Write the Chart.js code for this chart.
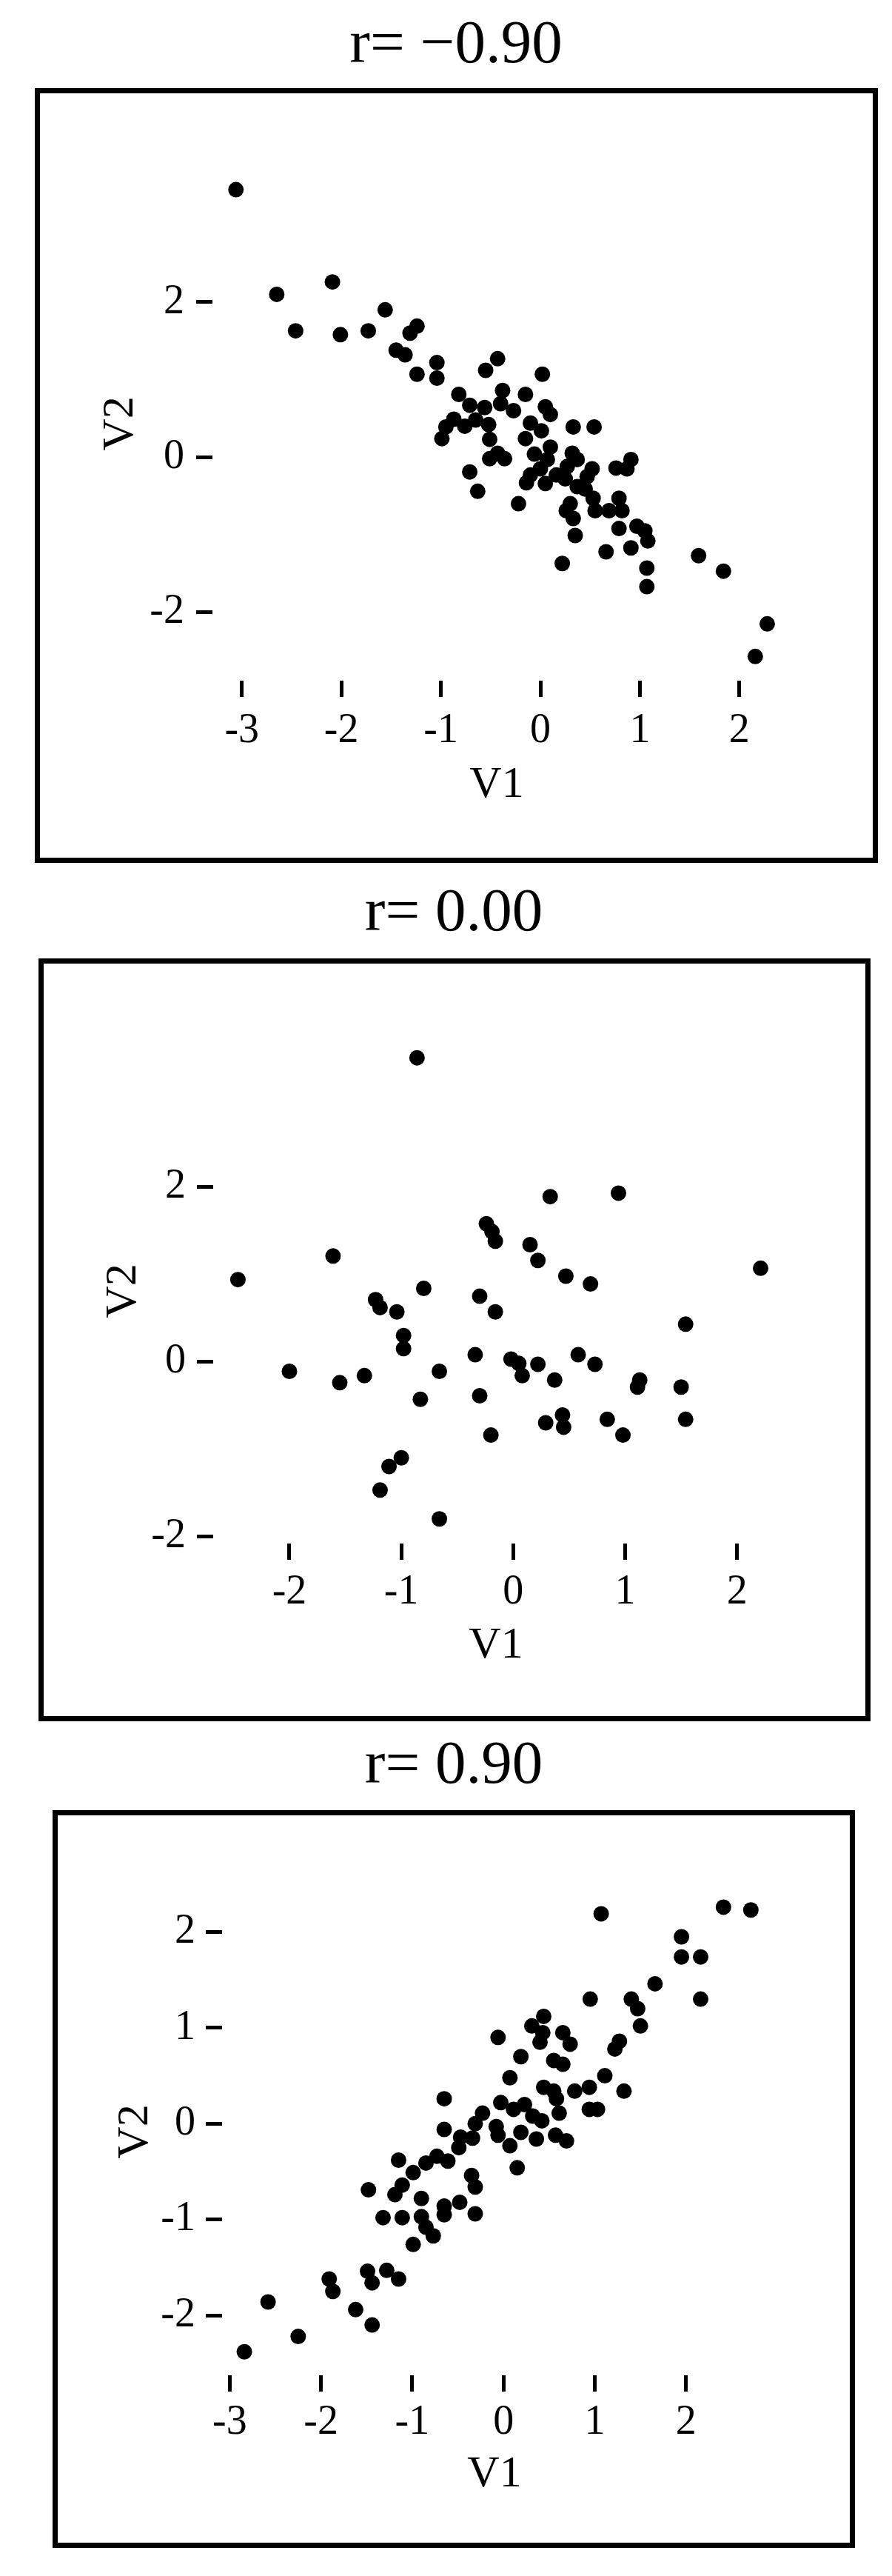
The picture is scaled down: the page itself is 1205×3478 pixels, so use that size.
<!DOCTYPE html>
<html>
<head>
<meta charset="utf-8">
<title>Scatter plots r = -0.90, 0.00, 0.90</title>
<script src="https://cdn.jsdelivr.net/npm/chart.js@4.4.1/dist/chart.umd.min.js"></script>
<style>
  html, body { margin: 0; padding: 0; background: #fff; }
  body { position: relative; width: 1205px; height: 3478px; overflow: hidden; }
  canvas { position: absolute; left: 0; }
  .box { position: absolute; border: 7px solid #000; box-sizing: border-box; }
</style>
</head>
<body>
<div class="box" style="left:47px; top:119px; width:1139px; height:1046px"></div>
<div class="box" style="left:52px; top:1294px; width:1124px; height:1030px"></div>
<div class="box" style="left:71px; top:2444px; width:1084px; height:996px"></div>

<canvas id="chartNeg" width="1205" height="1170" style="top:0px"></canvas>
<canvas id="chartZero" width="1205" height="1160" style="top:1170px"></canvas>
<canvas id="chartPos" width="1205" height="1148" style="top:2330px"></canvas>

<script>
// panel titles
var titles = ['r= \u22120.90', 'r= 0.00', 'r= 0.90']

// tick labels
var xTicksNeg = [-3, -2, -1, 0, 1, 2]
var yTicksNeg = [-2, 0, 2]
var xTicksZero = [-2, -1, 0, 1, 2]
var yTicksZero = [-2, 0, 2]
var xTicksPos = [-3, -2, -1, 0, 1, 2]
var yTicksPos = [-2, -1, 0, 1, 2]

// r = -0.90
var v1Neg = [-3.06, -2.65, -2.09, -2.46, -2.01, -1.73, -1.56, -1.31, -1.24, -1.45, -1.36,
    -1.04, -1.04, -1.24, -0.43, -0.55, 0.02,
    -0.82, -0.71, -0.56, -0.38, -0.40, -0.27, -0.15, 0.05, 0.10,
    -0.87, -0.95, -0.99, -0.76, -0.65, -0.52, -0.51,
    -0.10, 0.01, -0.15, 0.33, 0.54, 0.10, -0.06,
    -0.51, -0.36, -0.43, -0.71, -0.63, -0.22,
    -0.10, 0.00, 0.07, 0.16, 0.05, 0.27, 0.37, 0.25, 0.37, 0.52, 0.47,
    0.76, 0.91, 0.87,
    0.30, 0.26, 0.33, 0.35, 0.53, 0.55, 0.69, 0.79, 0.82, 0.79, 0.97, 1.05, 1.08,
    0.66, 0.91, 0.22, 1.07,
    -0.14, 0.32, 0.45,
    1.07, 1.59, 1.84, 2.28, 2.16]
var v2Neg = [3.45, 2.10, 2.26, 1.63, 1.58, 1.63, 1.90, 1.60, 1.69, 1.38, 1.32,
    1.22, 1.02, 1.07, 1.27, 1.12, 1.07,
    0.81, 0.67, 0.64, 0.86, 0.69, 0.60, 0.81, 0.65, 0.55,
    0.49, 0.39, 0.24, 0.40, 0.48, 0.42, 0.23,
    0.44, 0.34, 0.24, 0.39, 0.39, 0.13, 0.04,
    -0.02, -0.02, 0.05, -0.19, -0.44, -0.60,
    -0.23, -0.15, -0.03, -0.23, -0.34, -0.12, -0.03, -0.28, -0.38, -0.15, -0.25,
    -0.14, -0.03, -0.15,
    -0.60, -0.69, -0.79, -1.01, -0.53, -0.69, -0.69, -0.53, -0.69, -0.92, -0.89, -0.95, -1.08,
    -1.22, -1.17, -1.37, -1.43,
    -0.33, 0.05, -0.41,
    -1.67, -1.27, -1.47, -2.15, -2.57]

// r = 0.00
var v1Zero = [-0.86, 0.33, 0.94, -0.24, -0.19, -0.16, 0.15, 0.22, 0.47, 0.69,
    -1.61, -2.46, 2.21, -0.80, -1.23, -1.19, -1.04, -0.30, -0.16, 1.54,
    -0.98, -0.98, -0.34, -0.02, 0.05, 0.08, 0.22, 0.58, 0.73, 0.37,
    1.13, 1.11, 1.50, -2.00, -1.55, -1.33, -0.66, -0.83, -0.30, 0.29,
    0.44, 0.45, 0.84, 0.98, 1.54, -0.20, -1.00, -1.11, -1.19, -0.66]
var v2Zero = [3.48, 1.89, 1.93, 1.58, 1.49, 1.38, 1.34, 1.16, 0.98, 0.89,
    1.21, 0.94, 1.07, 0.84, 0.71, 0.62, 0.57, 0.75, 0.57, 0.43,
    0.30, 0.15, 0.08, 0.03, -0.02, -0.16, -0.03, 0.08, -0.03, -0.21,
    -0.21, -0.29, -0.29, -0.11, -0.24, -0.16, -0.11, -0.43, -0.39, -0.70,
    -0.61, -0.75, -0.66, -0.84, -0.66, -0.84, -1.10, -1.20, -1.47, -1.80]

// r = 0.90
var v1Pos = [1.07, 2.41, 2.71, 1.95, 1.95, 2.16, 2.16, 1.66, 0.95, 1.40, 1.47, 1.50, 1.27, 1.22, 1.32,
    0.44, 0.31, 0.43, 0.40, 0.65, 0.73, -0.06, 0.19, 0.55, 0.65, 0.07, 1.11, 0.44, 0.55, 0.58,
    0.78, 0.94, 0.94, 1.03, -0.65, 0.61,
    -0.03, 0.11, 0.23, 0.32, 0.42, 0.19, 0.07, -0.06, -0.08, -0.23, -0.31, -0.47, -0.49, -0.34,
    0.36, 0.57, 0.69, -0.65,
    -0.73, -0.61, -0.85, -0.99, -1.15, 0.15, -0.35, -0.31, -1.11, -1.19, -0.90, -0.65, -0.65,
    -0.48, -0.31, -1.11, -0.90, -0.85, -0.77, -0.99,
    -1.48, -1.32, -1.49, -1.44, -1.28, -1.15, -1.91, -1.87, -2.58, -1.62, -1.44, -2.25, -2.84]
var v2Pos = [2.19, 2.26, 2.23, 1.95, 1.74, 1.74, 1.30, 1.46, 1.30, 1.30, 1.20, 1.02, 0.86, 0.78, 0.34,
    1.12, 1.02, 0.95, 0.85, 0.95, 0.83, 0.90, 0.70, 0.66, 0.62, 0.48, 0.50, 0.38, 0.34, 0.26,
    0.34, 0.38, 0.15, 0.15, 0.26, 0.11,
    0.22, 0.15, 0.20, 0.08, 0.03, -0.09, -0.23, -0.12, -0.03, 0.11, 0.00, -0.14, -0.25, -0.15,
    -0.16, -0.12, -0.18, -0.06,
    -0.34, -0.39, -0.41, -0.51, -0.38, -0.46, -0.54, -0.66, -0.64, -0.74, -0.78, -0.86, -0.95,
    -0.82, -0.94, -0.98, -0.97, -1.08, -1.17, -1.26,
    -0.69, -0.98, -1.54, -1.66, -1.53, -1.62, -1.62, -1.75, -1.86, -1.94, -2.10, -2.22, -2.38]

Chart.defaults.font.family = '"Liberation Serif", "Times New Roman", serif'
Chart.defaults.color = '#000'

// one scatter panel; lay holds axis ranges and the pixel layout of that panel
function scatterPanel(id, titleText, v1, v2, xTicks, yTicks, lay) {
    var points = v1.map(function (x, i) { return {x: x, y: v2[i]} })
    var ctx = document.getElementById(id).getContext('2d')

    var tickGrid = {
        drawOnChartArea: false,
        drawTicks: true,
        tickLength: 22,
        lineWidth: 5,
        color: '#000'
    }

    return new Chart(ctx, {
        type: 'scatter',
        data: {
            datasets: [{
                data            : points,
                backgroundColor : '#000',
                borderWidth     : 0,
                pointRadius     : 10.5,
                pointHoverRadius: 10.5,
                clip            : false
            }]
        },
        options: {
            responsive: false,
            animation: false,
            events: [],
            layout: {
                autoPadding: false,
                padding: {left: lay.padL, right: lay.padR, top: 0, bottom: lay.padB}
            },
            plugins: {
                legend: {display: false},
                tooltip: {enabled: false},
                title: {
                    display: true,
                    text: titleText,
                    color: '#000',
                    font: {size: 83, weight: 'normal'},
                    padding: {top: lay.titleTop, bottom: lay.titleBottom}
                }
            },
            scales: {
                x: {
                    type: 'linear',
                    position: 'bottom',
                    min: lay.xmin,
                    max: lay.xmax,
                    afterBuildTicks: function (s) { s.ticks = xTicks.map(function (v) { return {value: v} }) },
                    afterFit: function (s) { s.height = lay.xAxisH },
                    grid: tickGrid,
                    border: {display: false},
                    ticks: {padding: lay.xTickPad, font: {size: 56}, color: '#000', maxRotation: 0, autoSkip: false},
                    title: {display: true, text: 'V1', color: '#000', font: {size: 60}, padding: 0}
                },
                y: {
                    type: 'linear',
                    position: 'left',
                    min: lay.ymin,
                    max: lay.ymax,
                    afterBuildTicks: function (s) { s.ticks = yTicks.map(function (v) { return {value: v} }) },
                    afterFit: function (s) { s.width = lay.yAxisW },
                    grid: tickGrid,
                    border: {display: false},
                    ticks: {padding: lay.yTickPad, font: {size: 56}, color: '#000', autoSkip: false},
                    title: {display: true, text: 'V2', color: '#000', font: {size: 60}, padding: {top: lay.yTitlePad, bottom: 0}}
                }
            }
        }
    })
}

// title block height = 83 * 1.2 + padding, chart area top stays where it was
scatterPanel('chartNeg', titles[0], v1Neg, v2Neg, xTicksNeg, yTicksNeg, {
    xmin: -3.296, xmax: 2.418, ymin: -2.882, ymax: 3.747,
    padL: 177, padR: 150, padB: 73.5, titleTop: 12.2, titleBottom: 113.2,
    yAxisW: 110, xAxisH: 177.5, yTitlePad: -50, xTickPad: 12.4, yTickPad: 16
})

scatterPanel('chartZero', titles[1], v1Zero, v2Zero, xTicksZero, yTicksZero, {
    xmin: -2.681, xmax: 2.372, ymin: -2.082, ymax: 3.702,
    padL: 174, padR: 153, padB: 72, titleTop: 14.7, titleBottom: 117.7,
    yAxisW: 114, xAxisH: 174, yTitlePad: -42.5, xTickPad: 10.4, yTickPad: 15
})

scatterPanel('chartPos', titles[2], v1Pos, v2Pos, xTicksPos, yTicksPos, {
    xmin: -3.084, xmax: 2.886, ymin: -2.625, ymax: 2.460,
    padL: 190, padR: 169, padB: 100.5, titleTop: 5.7, titleBottom: 113.7,
    yAxisW: 110, xAxisH: 170.5, yTitlePad: -43, xTickPad: 8.4, yTickPad: 14
})
</script>
</body>
</html>
